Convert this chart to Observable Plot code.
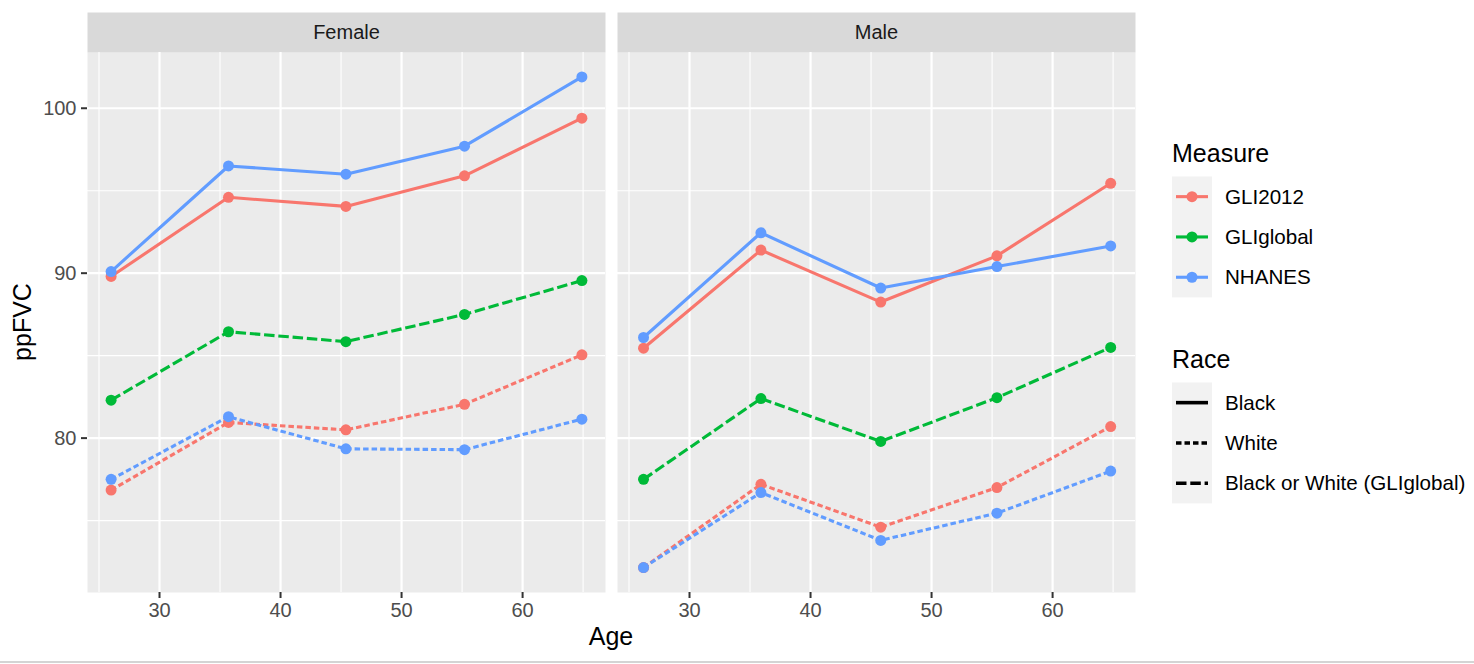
<!DOCTYPE html>
<html><head><meta charset="utf-8">
<script src="https://cdn.jsdelivr.net/npm/d3@7"></script>
<script src="https://cdn.jsdelivr.net/npm/@observablehq/plot@0.6"></script>
<style>
body{margin:0;background:#fff;font-family:"Liberation Sans",Arial,sans-serif;}
#wrap{position:relative;width:1474px;height:664px;overflow:hidden;background:#fff}
#bottomline{position:absolute;left:0;top:661px;width:1474px;height:2px;background:#d4d4d4}
</style></head><body><div id="wrap"><div id="bottomline"></div></div>
<script>
// ---- data ----
const sexes = ["Female", "Male"];
const measures = ["GLI2012", "GLIglobal", "NHANES"];
const races = ["Black", "White", "Black or White (GLIglobal)"];

const femaleAge = [26.0, 35.7, 45.4, 55.2, 64.9];
const maleAge = [26.2, 35.9, 45.8, 55.4, 64.8];

const femaleGLI2012Black = [89.8, 94.6, 94.05, 95.9, 99.4];
const femaleGLI2012White = [76.85, 80.95, 80.5, 82.05, 85.05];
const femaleGLIglobal = [82.3, 86.45, 85.85, 87.5, 89.55];
const femaleNHANESBlack = [90.1, 96.5, 96.0, 97.7, 101.9];
const femaleNHANESWhite = [77.5, 81.3, 79.35, 79.3, 81.15];

const maleGLI2012Black = [85.45, 91.4, 88.25, 91.05, 95.45];
const maleGLI2012White = [72.15, 77.2, 74.6, 77.0, 80.7];
const maleGLIglobal = [77.5, 82.4, 79.8, 82.45, 85.5];
const maleNHANESBlack = [86.1, 92.45, 89.1, 90.4, 91.65];
const maleNHANESWhite = [72.15, 76.7, 73.8, 75.45, 78.0];

const xTicks = [30, 40, 50, 60];
const xMinor = [25, 35, 45, 55, 65];
const yTicks = [80, 90, 100];
const yMinor = [75, 85, 95];

// ---- build table ----
const series = [
  ["Female", "GLI2012", races[0], femaleAge, femaleGLI2012Black],
  ["Female", "GLI2012", races[1], femaleAge, femaleGLI2012White],
  ["Female", "GLIglobal", races[2], femaleAge, femaleGLIglobal],
  ["Female", "NHANES", races[0], femaleAge, femaleNHANESBlack],
  ["Female", "NHANES", races[1], femaleAge, femaleNHANESWhite],
  ["Male", "GLI2012", races[0], maleAge, maleGLI2012Black],
  ["Male", "GLI2012", races[1], maleAge, maleGLI2012White],
  ["Male", "GLIglobal", races[2], maleAge, maleGLIglobal],
  ["Male", "NHANES", races[0], maleAge, maleNHANESBlack],
  ["Male", "NHANES", races[1], maleAge, maleNHANESWhite]
];
const rows = series.flatMap(([sex, measure, race, ages, vals]) =>
  ages.map((a, i) => ({sex, measure, race, age: a, value: vals[i], key: sex + "|" + measure + "|" + race})));
rows.sort((a, b) => measures.indexOf(a.measure) - measures.indexOf(b.measure));

// ---- styles ----
const colors = ["#F8766D", "#00BA38", "#619CFF"];
const dashes = {"Black": null, "White": "5.5,3", "Black or White (GLIglobal)": "10.5,3.8"};
const LW = 3.1;
const FONT = '"Liberation Sans", Arial, sans-serif';

const lineMark = (race) => Plot.line(rows.filter(d => d.race === race), {
  x: "age", y: "value", fx: "sex", z: "key", stroke: "measure",
  strokeWidth: LW, strokeLinecap: "butt", strokeLinejoin: "round",
  ...(dashes[race] ? {strokeDasharray: dashes[race]} : {})
});

const plot = Plot.plot({
  width: 1474, height: 664,
  marginTop: 52, marginBottom: 72, marginLeft: 87, marginRight: 339,
  style: {fontFamily: FONT, background: "transparent", overflow: "visible"},
  fx: {domain: sexes, paddingInner: 12 / 530, paddingOuter: 0, round: false, label: null},
  x: {domain: [24.05, 66.85]},
  y: {domain: [70.64, 103.38]},
  color: {domain: measures, range: colors},
  marks: [
    Plot.frame({fill: "#ebebeb"}),
    Plot.frame({fill: "#d9d9d9", insetTop: -40, insetBottom: 540}),
    Plot.ruleX(xMinor, {stroke: "white", strokeWidth: 1.1}),
    Plot.ruleY(yMinor, {stroke: "white", strokeWidth: 1.1}),
    Plot.ruleX(xTicks, {stroke: "white", strokeWidth: 2.2}),
    Plot.ruleY(yTicks, {stroke: "white", strokeWidth: 2.2}),
    Plot.axisFx({anchor: "top", tickSize: 0, tickPadding: 14, fontSize: 20, fill: "#1a1a1a", label: null}),
    Plot.axisX({ticks: xTicks, tickSize: 6, tickPadding: 4, fontSize: 20, stroke: "#333333", strokeWidth: 2, fill: "#4d4d4d", label: null}),
    Plot.axisY({ticks: yTicks, tickSize: 6, tickPadding: 5, fontSize: 20, stroke: "#333333", strokeWidth: 2, fill: "#4d4d4d", label: null}),
    lineMark(races[2]),
    lineMark(races[1]),
    lineMark(races[0]),
    Plot.dot(rows, {x: "age", y: "value", fx: "sex", fill: "measure", r: 5.5})
  ]
});

document.getElementById("wrap").appendChild(plot);

// ---- axis titles and legend (drawn into the same svg) ----
const svg = d3.select(plot);
svg.append("text").attr("transform", "translate(31,322) rotate(-90)")
  .attr("text-anchor", "middle").attr("font-size", 25).attr("fill", "#000").attr("font-family", FONT).text("ppFVC");
svg.append("text").attr("x", 611).attr("y", 645)
  .attr("text-anchor", "middle").attr("font-size", 25).attr("fill", "#000").attr("font-family", FONT).text("Age");

const lg = svg.append("g").attr("font-family", FONT).attr("text-anchor", "start");
function legendBlock(title, titleY, items, boxTop, drawKey) {
  lg.append("text").attr("x", 1172).attr("y", titleY).attr("font-size", 25).attr("fill", "#000").attr("text-anchor", "start").text(title);
  const rowH = 40.3;
  lg.append("rect").attr("x", 1172).attr("y", boxTop).attr("width", 40).attr("height", rowH * items.length).attr("fill", "#f2f2f2");
  items.forEach((it, i) => {
    const cy = boxTop + rowH * (i + 0.5);
    drawKey(it, i, cy);
    lg.append("text").attr("x", 1225).attr("y", cy + 7).attr("font-size", 20.6).attr("fill", "#000").attr("text-anchor", "start").text(it);
  });
}
legendBlock("Measure", 162, measures, 176.5, (m, i, cy) => {
  lg.append("line").attr("x1", 1176).attr("x2", 1208).attr("y1", cy).attr("y2", cy)
    .attr("stroke", colors[i]).attr("stroke-width", LW);
  lg.append("circle").attr("cx", 1192).attr("cy", cy).attr("r", 5.5).attr("fill", colors[i]);
});
legendBlock("Race", 368, races, 382.5, (r, i, cy) => {
  const l = lg.append("line").attr("x1", 1176).attr("x2", 1208).attr("y1", cy).attr("y2", cy)
    .attr("stroke", "#000").attr("stroke-width", 3.6).attr("stroke-linecap", "butt");
  if (dashes[r]) l.attr("stroke-dasharray", dashes[r]);
});
</script>
</body></html>
